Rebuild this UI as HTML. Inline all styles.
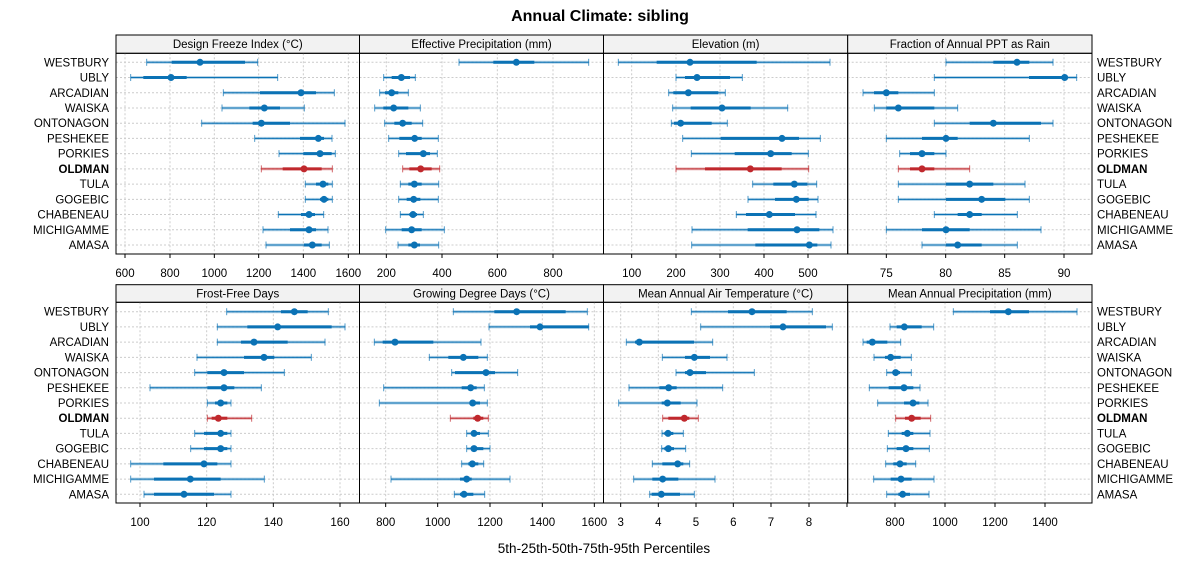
<!DOCTYPE html>
<html><head><meta charset="utf-8"><style>
body{margin:0;background:#fff;}
svg text{font-family:"Liberation Sans",sans-serif;}
</style></head><body>
<svg id="s" width="1200" height="575" xmlns="http://www.w3.org/2000/svg"></svg>
<script>
const names=["WESTBURY","UBLY","ARCADIAN","WAISKA","ONTONAGON","PESHEKEE","PORKIES","OLDMAN","TULA","GOGEBIC","CHABENEAU","MICHIGAMME","AMASA"];
const panels=[
{t:"Design Freeze Index (°C)",ox:100,row:0,col:0,ticks:[[600,75],[800,210],[1000,343],[1200,476],[1400,610],[1600,745]],d:[[140,215,300,435,473],[92,130,213,260,533],[370,480,603,648,703],[366,448,493,540,613],[305,458,484,570,735],[464,600,655,672,696],[537,610,660,695,706],[484,548,612,665,697],[616,648,669,685,697],[616,660,672,685,697],[535,603,627,645,671],[489,570,627,648,684],[498,612,637,665,688]]},
{t:"Effective Precipitation (mm)",ox:355,row:0,col:1,ticks:[[200,94],[400,261],[600,427],[800,594]],d:[[312,415,484,538,701],[86,110,139,165,181],[74,90,110,130,160],[59,85,116,160,196],[89,118,143,170,203],[101,133,179,200,250],[131,153,205,225,247],[143,163,197,230,254],[136,160,178,200,251],[131,155,176,196,250],[136,163,174,186,205],[92,140,170,200,268],[129,160,178,195,251]]},
{t:"Elevation (m)",ox:600,row:0,col:2,ticks:[[100,95],[200,228],[300,360],[400,492],[500,624]],d:[[55,170,270,470,690],[228,255,291,390,427],[206,220,265,355,376],[218,272,366,452,563],[214,222,242,335,382],[248,362,546,597,661],[274,404,512,575,625],[228,315,451,545,626],[458,520,583,622,650],[444,525,589,626,654],[409,438,508,585,648],[276,443,591,658,699],[275,466,628,652,693]]},
{t:"Fraction of Annual PPT as Rain",ox:600,row:0,col:3,ticks:[[75,859],[80,1037],[85,1214],[90,1392]],d:[[1038,1180,1251,1288,1359],[1003,1287,1394,1394,1430],[789,822,859,895,1003],[823,859,895,1003,1073],[1003,1109,1180,1323,1359],[859,966,1038,1073,1288],[899,930,966,1003,1038],[895,930,966,1003,1109],[895,1038,1109,1180,1275],[895,1038,1145,1216,1288],[1003,1073,1109,1145,1252],[859,966,1038,1109,1323],[966,1038,1073,1145,1252]]},
{t:"Frost-Free Days",ox:100,row:1,col:0,ticks:[[100,120],[120,320],[140,520],[160,720]],d:[[380,543,583,623,685],[352,442,533,695,735],[352,423,462,563,675],[291,432,492,523,634],[284,322,372,432,553],[150,322,372,403,484],[322,345,362,382,393],[322,335,355,382,455],[284,312,362,382,393],[272,312,362,382,393],[92,190,312,352,393],[92,162,271,362,493],[132,162,252,342,393]]},
{t:"Growing Degree Days (°C)",ox:100,row:1,col:1,ticks:[[800,857],[1000,1013],[1200,1170],[1400,1327],[1600,1483]],d:[[1060,1183,1250,1397,1462],[1167,1290,1320,1466,1466],[823,848,885,1000,1143],[988,1045,1090,1135,1162],[1055,1065,1158,1185,1253],[851,1085,1112,1130,1153],[838,1110,1118,1140,1162],[1051,1120,1133,1150,1165],[1100,1115,1122,1140,1165],[1100,1115,1122,1150,1170],[1085,1105,1117,1135,1151],[873,1080,1100,1115,1230],[1063,1080,1092,1120,1154]]},
{t:"Mean Annual Air Temperature (°C)",ox:600,row:1,col:2,ticks:[[3,62],[4,175],[5,288],[6,400],[7,513],[8,627],["",741]],d:[[274,384,456,560,637],[302,510,549,678,697],[79,105,118,282,338],[187,255,283,330,381],[228,255,270,318,463],[87,178,206,230,368],[56,185,202,242,291],[188,205,253,268,295],[186,193,204,220,250],[185,193,205,222,257],[157,187,233,250,269],[101,157,188,235,345],[149,155,184,240,283]]},
{t:"Mean Annual Precipitation (mm)",ox:600,row:1,col:3,ticks:[[800,885],[1000,1035],[1200,1185],[1400,1335]],d:[[1060,1170,1225,1287,1431],[870,890,913,965,1001],[789,800,817,862,902],[822,855,872,902,934],[860,880,887,900,934],[808,866,912,940,960],[833,912,939,958,984],[887,915,935,962,992],[865,905,922,940,990],[862,890,918,940,988],[857,880,900,920,947],[821,872,903,935,1002],[860,895,908,930,987]]}
];
const xs=[116,359.5,603.5,847.7,1092];
const rows=[{st:35,sb:53.3,pb:254,r0:62.3,r1:245,tl:277},{st:284.7,sb:302.3,pb:503,r0:311.7,r1:494.3,tl:526}];
let h='<text x="600" y="21" text-anchor="middle" font-size="16" font-weight="bold">Annual Climate: sibling</text>';
h+='<text x="604" y="553" text-anchor="middle" font-size="13.5">5th-25th-50th-75th-95th Percentiles</text>';
for(const R of rows){
 for(let i=0;i<13;i++){
  const y=R.r0+i*(R.r1-R.r0)/12;
  const b=names[i]=="OLDMAN"?' font-weight="bold"':'';
  h+=`<text x="109" y="${y+4}" text-anchor="end" font-size="11.5"${b}>${names[i]}</text>`;
  h+=`<text x="1097" y="${y+4}" font-size="11.5"${b}>${names[i]}</text>`;
 }
}
for(const p of panels){
 const R=rows[p.row],x0=xs[p.col],x1=xs[p.col+1];
 const X=z=>p.ox+z/3;
 h+=`<rect x="${x0}" y="${R.st}" width="${x1-x0}" height="${R.sb-R.st}" fill="#f2f2f2" stroke="#000" stroke-width="1"/>`;
 h+=`<text x="${(x0+x1)/2}" y="${R.st+13}" text-anchor="middle" font-size="11.5">${p.t}</text>`;
 for(const [v,z] of p.ticks){const x=X(z);
  if(v!=="")h+=`<line x1="${x}" y1="${R.sb}" x2="${x}" y2="${R.pb}" stroke="#ccc" stroke-dasharray="2,2"/>`;
  h+=`<line x1="${x}" y1="${R.pb}" x2="${x}" y2="${R.pb+4}" stroke="#000"/>`;
  if(v!=="")h+=`<text x="${x}" y="${R.tl}" text-anchor="middle" font-size="11.5">${v}</text>`;}
 for(let i=0;i<13;i++){
  const y=R.r0+i*(R.r1-R.r0)/12;
  h+=`<line x1="${x0}" y1="${y}" x2="${x1}" y2="${y}" stroke="#ccc" stroke-dasharray="2,2"/>`;
  const d=p.d[i].map(X),c=names[i]=="OLDMAN"?"#c0282d":"#0b72b5";
  h+=`<line x1="${d[0]}" y1="${y}" x2="${d[4]}" y2="${y}" stroke="${c}" stroke-width="1"/>`;
  h+=`<line x1="${d[0]}" y1="${y}" x2="${d[4]}" y2="${y}" stroke="${c}" stroke-width="3" opacity="0.3"/>`;
  h+=`<line x1="${d[0]}" y1="${y-3.5}" x2="${d[0]}" y2="${y+3.5}" stroke="${c}" opacity="0.7"/>`;
  h+=`<line x1="${d[4]}" y1="${y-3.5}" x2="${d[4]}" y2="${y+3.5}" stroke="${c}" opacity="0.7"/>`;
  h+=`<line x1="${d[1]}" y1="${y}" x2="${d[3]}" y2="${y}" stroke="${c}" stroke-width="3"/>`;
  h+=`<circle cx="${d[2]}" cy="${y}" r="3.5" fill="${c}"/>`;
 }
 h+=`<rect x="${x0}" y="${R.sb}" width="${x1-x0}" height="${R.pb-R.sb}" fill="none" stroke="#000"/>`;
}
document.getElementById('s').innerHTML=h;
</script>
</body></html>
